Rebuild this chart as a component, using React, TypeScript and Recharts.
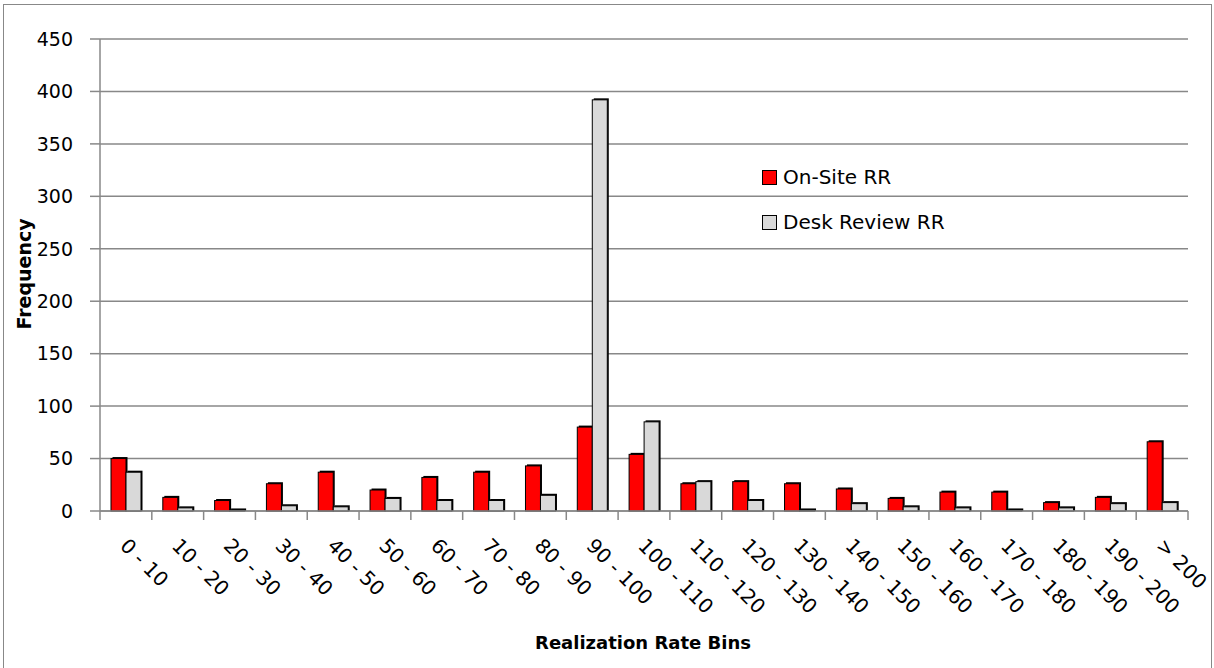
import React from 'react';
import { BarChart, Bar, XAxis, YAxis, CartesianGrid, Legend } from 'recharts';

const categories = [
  '0 - 10', '10 - 20', '20 - 30', '30 - 40', '40 - 50', '50 - 60', '60 - 70',
  '70 - 80', '80 - 90', '90 - 100', '100 - 110', '110 - 120', '120 - 130',
  '130 - 140', '140 - 150', '150 - 160', '160 - 170', '170 - 180', '180 - 190',
  '190 - 200', '> 200',
];
const onSiteRR = [50, 13, 10, 26, 37, 20, 32, 37, 43, 80, 54, 26, 28, 26, 21, 12, 18, 18, 8, 13, 66];
const deskReviewRR = [37, 3, 1, 5, 4, 12, 10, 10, 15, 392, 85, 28, 10, 1, 7, 4, 3, 1, 3, 7, 8];
const yTicks = [0, 50, 100, 150, 200, 250, 300, 350, 400, 450];

const data = categories.map((bin, i) => ({ bin, onSite: onSiteRR[i], desk: deskReviewRR[i] }));

const FONT = '"DejaVu Sans", sans-serif';
const GRID = '#888888';
// plot area: x 100..1188, y 39..511
const PLOT_W = 1088;

// bar com contorno preto e "sombra" no topo/direita
const ShadowBar = (props: any) => {
  const { x, y, width, height, fill } = props;
  if (!height || height <= 0) return null;
  return (
    <g>
      <rect x={x + 1.5} y={y - 1.5} width={width} height={height + 1.5} fill="#000" />
      <rect x={x} y={y} width={width} height={height} fill={fill} stroke="#000" strokeWidth={1} />
    </g>
  );
};

const XTick = (props: any) => {
  const { x, y, payload, index } = props;
  const band = PLOT_W / categories.length;
  const left = x - band / 2;
  return (
    <g>
      <line x1={left} x2={left} y1={y} y2={y + 9} stroke={GRID} strokeWidth={1.5} />
      {index === categories.length - 1 && (
        <line x1={x + band / 2} x2={x + band / 2} y1={y} y2={y + 9} stroke={GRID} strokeWidth={1.5} />
      )}
      <text
        transform={`translate(${x - 7},${y + 36}) rotate(45)`}
        fontSize={20}
        fontFamily={FONT}
        fill="#000"
      >
        {payload.value}
      </text>
    </g>
  );
};

const LegendBox = () => (
  <div style={{ fontFamily: FONT, fontSize: 20, color: '#000', lineHeight: '24px' }}>
    {[
      { name: 'On-Site RR', color: '#FF0000' },
      { name: 'Desk Review RR', color: '#D9D9D9' },
    ].map((d, i) => (
      <div key={d.name} style={{ display: 'flex', alignItems: 'center', marginTop: i === 0 ? 0 : 21 }}>
        <span
          style={{
            width: 13,
            height: 13,
            background: d.color,
            border: '1px solid #000',
            marginRight: 6,
            display: 'inline-block',
          }}
        />
        <span>{d.name}</span>
      </div>
    ))}
  </div>
);

export default function App() {
  return (
    <div style={{ position: 'absolute', left: 0, top: 0, width: 1214, height: 668, overflow: 'hidden', background: '#fff' }}>
      <div
        style={{
          position: 'absolute',
          left: 3,
          top: 4,
          width: 1207,
          height: 700,
          border: '1.5px solid #888',
        }}
      />
      <div style={{ position: 'absolute', left: 0, top: 0 }}>
        <BarChart
          width={1214}
          height={668}
          data={data}
          margin={{ top: 39, right: 26, left: 0, bottom: 0 }}
          barGap={0}
          barSize={15}
          style={{ fontFamily: FONT }}
        >
          <CartesianGrid vertical={false} stroke={GRID} strokeWidth={1.5} />
          <XAxis
            dataKey="bin"
            height={157}
            interval={0}
            tickLine={false}
            tickSize={0}
            tickMargin={0}
            axisLine={{ stroke: GRID, strokeWidth: 1.5 }}
            tick={<XTick />}
            label={{
              content: () => (
                <text x={643} y={649} textAnchor="middle" fontSize={18} fontWeight="bold" fontFamily={FONT} fill="#000">
                  Realization Rate Bins
                </text>
              ),
            }}
          />
          <YAxis
            width={100}
            domain={[0, 450]}
            ticks={yTicks}
            interval={0}
            tickSize={10}
            tickMargin={17}
            tickLine={{ stroke: GRID, strokeWidth: 1.5 }}
            axisLine={{ stroke: GRID, strokeWidth: 1.5 }}
            tick={{ fill: '#000', fontSize: 19, fontFamily: FONT }}
            label={{
              content: () => (
                <text
                  transform="translate(31,274) rotate(-90)"
                  textAnchor="middle"
                  fontSize={19}
                  fontWeight="bold"
                  fontFamily={FONT}
                  fill="#000"
                >
                  Frequency
                </text>
              ),
            }}
          />
          <Legend
            layout="vertical"
            align="center"
            verticalAlign="middle"
            content={<LegendBox />}
            wrapperStyle={{ left: 762, top: 165, width: 260 }}
          />
          <Bar dataKey="onSite" name="On-Site RR" fill="#FF0000" shape={<ShadowBar />} isAnimationActive={false} />
          <Bar dataKey="desk" name="Desk Review RR" fill="#D9D9D9" shape={<ShadowBar />} isAnimationActive={false} />
        </BarChart>
      </div>
    </div>
  );
}
